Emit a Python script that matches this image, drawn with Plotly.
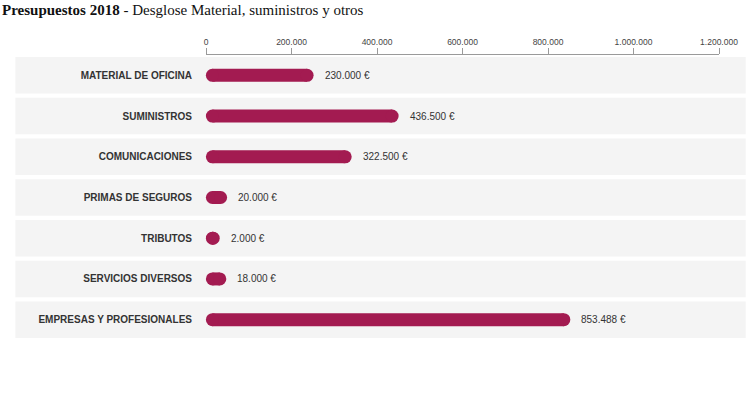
import plotly.graph_objects as go

categories = ["MATERIAL DE OFICINA", "SUMINISTROS", "COMUNICACIONES", "PRIMAS DE SEGUROS",
              "TRIBUTOS", "SERVICIOS DIVERSOS", "EMPRESAS Y PROFESIONALES"]
values = [230000, 436500, 322500, 20000, 2000, 18000, 853488]
tick_values = [0, 200000, 400000, 600000, 800000, 1000000, 1200000]

BAR_COLOR = "#a31b51"
BAND_COLOR = "#f4f4f4"
TEXT_COLOR = "#333333"

def fmt(v):
    return f"{v:,}".replace(",", ".") + " €"

labels = [fmt(v) for v in values]

# layout geometry
W, H = 750, 398
ML, MR, MT, MB = 206, 22, 55, 58
plot_w = W - ML - MR
bar_px_per_unit = 0.000419
cap_px = 6.5
units_per_px = 1 / bar_px_per_unit
bar_range = [-cap_px * units_per_px, (plot_w - cap_px) * units_per_px]

xs, ys = [], []
for c, v in zip(categories, values):
    xs += [0, v, None]
    ys += [c, c, None]

fig = go.Figure()
fig.add_trace(go.Scatter(
    x=xs, y=ys, xaxis="x2", yaxis="y", mode="lines+markers",
    line=dict(color=BAR_COLOR, width=13),
    marker=dict(color=BAR_COLOR, size=13, line=dict(width=0)),
    hoverinfo="skip", showlegend=False, cliponaxis=False,
))
# invisible trace to keep the visible axis active
fig.add_trace(go.Scatter(x=[0, 1200000], y=[categories[0], categories[0]], mode="markers",
                         marker=dict(opacity=0), hoverinfo="skip", showlegend=False))

n = len(categories)
shapes = []
for i in range(n):
    shapes.append(dict(type="rect", xref="paper", yref="y",
                       x0=(12 - ML) / plot_w, x1=(W - ML) / plot_w + 0.01,
                       y0=i - 0.448, y1=i + 0.448,
                       fillcolor=BAND_COLOR, line=dict(width=0), layer="below"))

annotations = []
for c, v, t in zip(categories, values, labels):
    annotations.append(dict(x=v, y=c, xref="x2", yref="y", text=t, showarrow=False,
                            xanchor="left", yanchor="middle", xshift=cap_px + 9,
                            font=dict(family="Arial, Liberation Sans", size=10, color=TEXT_COLOR)))

fig.update_layout(
    width=W, height=H,
    margin=dict(l=ML, r=MR, t=MT, b=MB),
    paper_bgcolor="white", plot_bgcolor="rgba(0,0,0,0)",
    separators=",.",
    title=dict(
        text="<b>Presupuestos 2018</b> - Desglose Material, suministros y otros",
        x=2 / W, xref="container", xanchor="left",
        y=1 - 10 / H, yref="container", yanchor="middle",
        font=dict(family="Liberation Serif, serif", size=15, color="#111111"),
    ),
    xaxis=dict(
        range=[0, 1200000], side="top", tickvals=tick_values, tickformat=",d",
        showline=True, linecolor="#9a9a9a", linewidth=1,
        ticks="outside", ticklen=6, tickcolor="#9a9a9a", tickwidth=1,
        showgrid=False, zeroline=False,
        tickfont=dict(family="Arial, Liberation Sans", size=8.5, color="#444444"),
        fixedrange=True,
    ),
    xaxis2=dict(range=bar_range, overlaying="x", side="bottom", visible=False, fixedrange=True),
    yaxis=dict(
        type="category", categoryorder="array", categoryarray=categories,
        range=[n - 0.5, -0.5], showgrid=False, zeroline=False, showline=False,
        ticks="", ticklabelstandoff=13,
        tickfont=dict(family="Arial, Liberation Sans", size=10, color=TEXT_COLOR, weight="bold"),
        fixedrange=True,
    ),
    shapes=shapes, annotations=annotations,
    hovermode=False,
)

fig.write_html("out.html", config={"displayModeBar": False},
               post_script="document.body.style.margin='0';document.body.style.overflow='hidden';")
